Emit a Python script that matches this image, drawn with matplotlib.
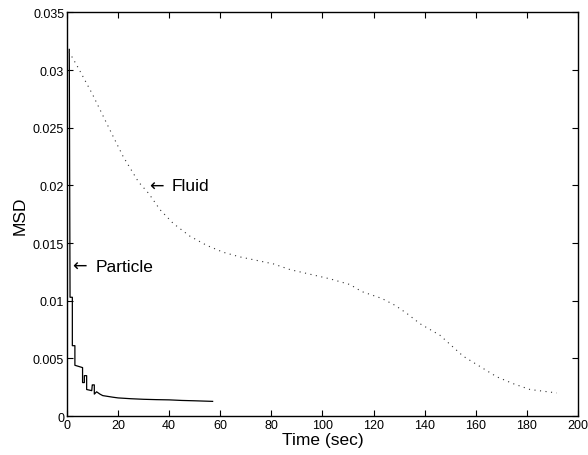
import matplotlib
matplotlib.use('Agg')
import matplotlib.pyplot as plt
import numpy as np

plt.rcParams['font.family'] = ['Liberation Sans', 'DejaVu Sans']

# particle MSD (step-like)
particle_t = [0.9, 1.2, 2.1, 2.1, 3.1, 3.1, 6.1, 6.1, 6.8, 6.8, 7.7, 7.7, 9.7, 9.9, 10.0,
              10.7, 10.7, 11.6, 12.9, 14, 16, 18, 20, 25, 30, 35, 40, 45, 50, 57]
particle_msd = [0.0318, 0.0103, 0.0103, 0.0061, 0.0061, 0.0044, 0.0042, 0.0029, 0.0029, 0.0035,
                0.0035, 0.0023, 0.0022, 0.0027, 0.0027, 0.0027, 0.0019, 0.0021, 0.0019, 0.00177,
                0.0017, 0.00163, 0.00157, 0.0015, 0.00145, 0.00142, 0.0014, 0.00135, 0.00132, 0.00127]

# fluid MSD (dotted)
fluid_t = [0.8, 4.4, 10, 17.5, 22, 28, 32, 36.4, 41.6, 48.1, 54.7, 61.2, 67.7, 80.7, 87.3,
           95.1, 102.9, 110.8, 115.3, 123.2, 128.4, 133, 138.2, 146, 150, 155, 161.6,
           168.2, 174.7, 181.2, 191.7]
fluid_msd = [0.0316, 0.0302, 0.0279, 0.0245, 0.0225, 0.0203, 0.0193, 0.0179, 0.0167, 0.0156,
             0.0148, 0.0142, 0.0138, 0.0132, 0.0127, 0.0123, 0.0119, 0.0114, 0.0108, 0.0102,
             0.0096, 0.0089, 0.0080, 0.0070, 0.0062, 0.0052, 0.0043, 0.0034, 0.0028, 0.0023,
             0.0020]

xticks = [0, 20, 40, 60, 80, 100, 120, 140, 160, 180, 200]
yticks = [0, 0.005, 0.01, 0.015, 0.02, 0.025, 0.03, 0.035]
ytick_labels = ['0', '0.005', '0.01', '0.015', '0.02', '0.025', '0.03', '0.035']

fig = plt.figure(figsize=(5.88, 4.56), dpi=100)
ax = fig.add_axes([0.1139, 0.0855, 0.8691, 0.8849])

ax.plot(particle_t, particle_msd, color='black', lw=0.9)
ax.plot(fluid_t, fluid_msd, color='#333333', lw=0.8, linestyle=(0, (1, 4)))

# labels with long thin arrows
ax.text(32.3, 0.0200, '\u2190', fontsize=12.5, ha='left', va='center', family='DejaVu Sans')
ax.text(41.1, 0.0200, 'Fluid', fontsize=12.5, ha='left', va='center')
ax.text(2.2, 0.0130, '\u2190', fontsize=12.5, ha='left', va='center', family='DejaVu Sans')
ax.text(11.4, 0.0130, 'Particle', fontsize=12.5, ha='left', va='center')

ax.set_xlim(0, 200)
ax.set_ylim(0, 0.035)
ax.set_xticks(xticks)
ax.set_xticklabels([str(t) for t in xticks])
ax.set_yticks(yticks)
ax.set_yticklabels(ytick_labels)
ax.tick_params(direction='in', length=4, width=0.8, top=True, right=True, labelsize=9, pad=2)
for s in ax.spines.values():
    s.set_linewidth(1.0)

ax.set_xlabel('Time (sec)', fontsize=12.5, labelpad=1)
ax.set_ylabel('MSD', fontsize=12.5, labelpad=4)

fig.savefig('out.png', dpi=100)
